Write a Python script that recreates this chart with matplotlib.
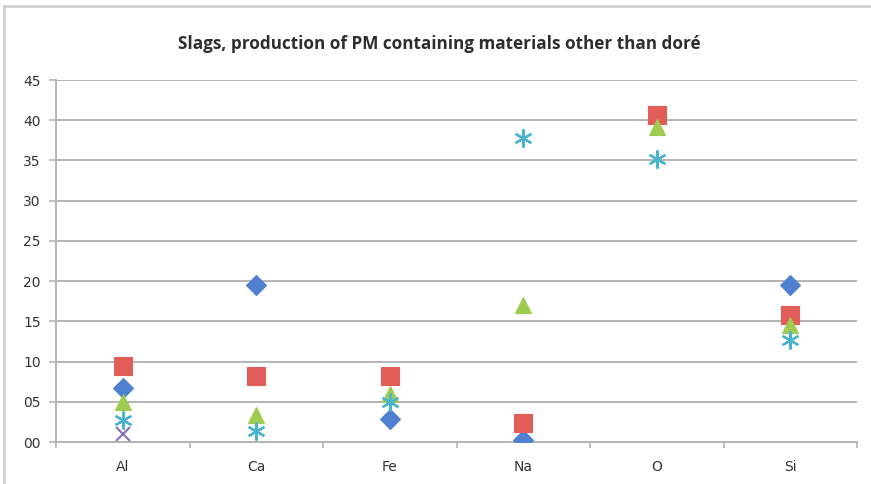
import numpy as np
import matplotlib
matplotlib.use("Agg")
from matplotlib import pyplot as plt
from matplotlib.lines import Line2D

elements = ["Al", "Ca", "Fe", "Na", "O", "Si"]

# one list per series, None where there is no point
series_1 = [6.7, 19.5, 2.9, 0.2, None, 19.5]
series_2 = [9.4, 8.2, 8.2, 2.4, 40.6, 15.8]
series_3 = [5.0, 3.4, 6.0, 17.0, 39.2, 14.5]
series_4 = [2.7, 1.4, 5.0, 37.8, 35.2, 12.7]
series_5 = [1.0, None, None, None, None, None]

y_ticks = list(range(0, 50, 5))

styles = [
    (series_1, "D", "#4f81d0", 10),
    (series_2, "s", "#e35d58", 13),
    (series_3, "^", "#9fcc50", 12),
    (series_5, "x", "#9074b8", 10),
    (series_4, (6, 2, 0), "#48b4d2", 13),
]

fig = plt.figure(figsize=(8.71, 4.84), dpi=100)
ax = fig.add_axes([56 / 871, 42 / 484, 801 / 871, 362 / 484])

x = np.arange(len(elements))
for values, marker, color, size in styles:
    xs = [x[i] for i, v in enumerate(values) if v is not None]
    ys = [v for v in values if v is not None]
    if marker in ("x",) or isinstance(marker, tuple):
        ax.plot(xs, ys, linestyle="none", marker=marker, markersize=size,
                markeredgecolor=color, markeredgewidth=1.6, zorder=3)
    else:
        ax.plot(xs, ys, linestyle="none", marker=marker, markersize=size,
                markerfacecolor=color, markeredgecolor=color,
                markeredgewidth=0.8, zorder=3)

ax.set_xlim(-0.5, len(elements) - 0.5)
ax.set_ylim(0, 45)
ax.set_yticks(y_ticks)
ax.set_yticklabels([f"{t:02d}" for t in y_ticks])
ax.yaxis.grid(True, color="#b4b4b4", linewidth=1.4)
ax.set_axisbelow(True)

ax.set_xticks(x)
ax.set_xticklabels(elements)
ax.set_xticks(np.arange(-0.5, len(elements), 1.0), minor=True)
ax.tick_params(axis="x", which="major", length=0, pad=13, labelsize=10, labelcolor="#333333")
ax.tick_params(axis="x", which="minor", length=4, width=1.2, color="#b4b4b4")
ax.tick_params(axis="y", length=5, width=1.2, color="#b4b4b4", pad=6, labelsize=10, labelcolor="#333333")

for side in ("top", "right"):
    ax.spines[side].set_visible(False)
for side in ("left", "bottom"):
    ax.spines[side].set_color("#b4b4b4")
    ax.spines[side].set_linewidth(1.4)

fig.text(0.504, 1 - 44 / 484, "Slags, production of PM containing materials other than doré",
         ha="center", va="center", fontsize=12.3, fontweight="bold", color="#2e2e2e",
         family="Open Sans")

# chart frame
fig.add_artist(Line2D([4 / 871, 4 / 871], [0, 1 - 6 / 484], color="#cccccc", linewidth=1.8))
fig.add_artist(Line2D([4 / 871, 1], [1 - 6 / 484, 1 - 6 / 484], color="#cccccc", linewidth=1.8))

plt.savefig("out.png", dpi=100)
